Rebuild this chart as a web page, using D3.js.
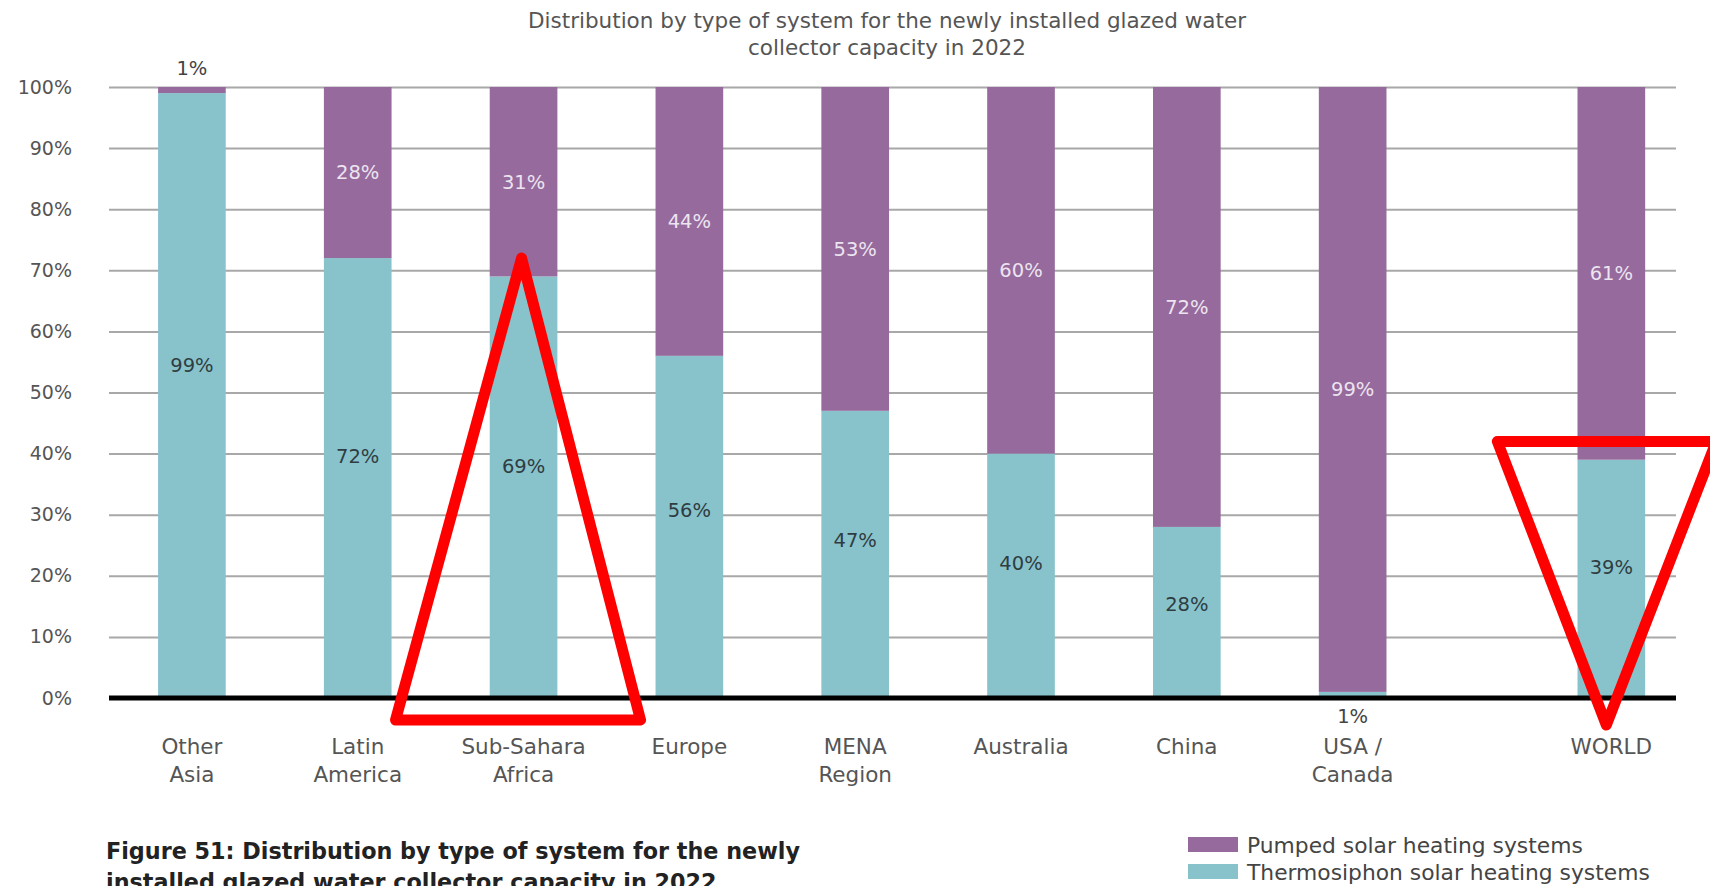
<!DOCTYPE html>
<html>
<head>
<meta charset="utf-8">
<script src="https://cdn.jsdelivr.net/npm/d3@7"></script>
<style>
  html, body { margin: 0; padding: 0; background: #fff; }
  svg { display: block; }
</style>
</head>
<body>
<svg id="chart" width="1710" height="886"></svg>
<script>
// ---------------- DATA ----------------
const categories = ["Other Asia", "Latin America", "Sub-Sahara Africa", "Europe", "MENA Region", "Australia", "China", "USA / Canada", "WORLD"];
const categoryLines = [["Other", "Asia"], ["Latin", "America"], ["Sub-Sahara", "Africa"], ["Europe"], ["MENA", "Region"], ["Australia"], ["China"], ["USA /", "Canada"], ["WORLD"]];
const thermosiphon = [99, 72, 69, 56, 47, 40, 28, 1, 39];
const pumped = [1, 28, 31, 44, 53, 60, 72, 99, 61];
const yTicks = [0, 10, 20, 30, 40, 50, 60, 70, 80, 90, 100];
const seriesNames = ["Pumped solar heating systems", "Thermosiphon solar heating systems"];
const titleLines = ["Distribution by type of system for the newly installed glazed water", "collector capacity in 2022"];
const captionLines = ["Figure 51: Distribution by type of system for the newly", "installed glazed water collector capacity in 2022"];

// ---------------- LAYOUT ----------------
const mLeft = 109, mRight = 1676, mTop = 87, mBottom = 698;
const FONT = "'DejaVu Sans', 'Liberation Sans', Arial, sans-serif";
const colThermo = "#88c3cc", colPumped = "#966a9c";

const svg = d3.select("#chart");

const table = categories.map((c, i) => ({ cat: c, lines: categoryLines[i], thermo: thermosiphon[i], pumped: pumped[i] }));
const stacked = d3.stack().keys(["thermo", "pumped"])(table);

const step = (mRight - mLeft) / 9.45;
const band = d3.scaleBand().domain(categories).range([mLeft, mLeft + 9 * step]).paddingInner(0.592).paddingOuter(0.296);
const worldShift = 0.56 * step;
const xb = c => band(c) + (c === "WORLD" ? worldShift : 0);
const xc = c => xb(c) + band.bandwidth() / 2;

const y = d3.scaleLinear().domain([0, 100]).range([mBottom, mTop]);

// gridlines + y labels
const yAxis = d3.axisLeft(y).tickValues(yTicks).tickSize(-(mRight - mLeft)).tickFormat(d => d + "%").tickPadding(37);
const gAxis = svg.append("g").attr("transform", `translate(${mLeft},0)`).call(yAxis);
gAxis.select(".domain").remove();
gAxis.selectAll(".tick line").attr("stroke", "#a8a8a8").attr("stroke-width", 2);
gAxis.selectAll(".tick text").attr("font-family", FONT).attr("font-size", 19).attr("fill", "#555");
gAxis.selectAll(".tick").filter(d => d === 0).select("line").remove();

// bars
const colors = { thermo: colThermo, pumped: colPumped };
svg.append("g").selectAll("g").data(stacked).join("g")
  .attr("fill", s => colors[s.key])
  .selectAll("rect").data(s => s).join("rect")
  .attr("x", d => xb(d.data.cat))
  .attr("width", band.bandwidth())
  .attr("y", d => y(d[1]))
  .attr("height", d => y(d[0]) - y(d[1]));

// zero line
svg.append("line").attr("x1", mLeft).attr("x2", mRight).attr("y1", y(0)).attr("y2", y(0))
  .attr("stroke", "#000").attr("stroke-width", 5);

// value labels
const labG = svg.append("g").attr("font-family", FONT).attr("font-size", 19.5).attr("text-anchor", "middle");
table.forEach(d => {
  if (d.thermo < 5) {
    labG.append("text").attr("x", xc(d.cat)).attr("y", y(0) + 18).attr("dy", "0.35em").attr("fill", "#444").text(d.thermo + "%");
  } else {
    labG.append("text").attr("x", xc(d.cat)).attr("y", y(d.thermo * 0.55)).attr("dy", "0.35em").attr("fill", "#2f3d42").text(d.thermo + "%");
  }
  if (d.pumped < 5) {
    labG.append("text").attr("x", xc(d.cat)).attr("y", y(100) - 19).attr("dy", "0.35em").attr("fill", "#444").text(d.pumped + "%");
  } else {
    labG.append("text").attr("x", xc(d.cat)).attr("y", y(d.thermo + d.pumped / 2)).attr("dy", "0.35em").attr("fill", "#ece4f0").text(d.pumped + "%");
  }
});

// category labels
const catG = svg.append("g").attr("font-family", FONT).attr("font-size", 21.5).attr("fill", "#555").attr("text-anchor", "middle");
table.forEach(d => {
  const t = catG.append("text").attr("x", xc(d.cat)).attr("y", 746);
  d.lines.forEach((ln, j) => t.append("tspan").attr("x", xc(d.cat)).attr("dy", j === 0 ? "0.35em" : 28).text(ln));
});

// title
const tt = svg.append("text").attr("font-family", FONT).attr("font-size", 21.5).attr("fill", "#555").attr("text-anchor", "middle");
titleLines.forEach((ln, j) => tt.append("tspan").attr("x", 887).attr("y", 20 + j * 27).attr("dy", "0.35em").text(ln));

// caption
const cap = svg.append("text").attr("font-family", FONT).attr("font-size", 22.3).attr("font-weight", "bold").attr("fill", "#222");
captionLines.forEach((ln, j) => cap.append("tspan").attr("x", 106).attr("y", 859 + j * 31).text(ln));

// legend
const legColors = [colPumped, colThermo];
const lg = svg.append("g");
seriesNames.forEach((n, i) => {
  const cy = 845 + i * 27;
  lg.append("rect").attr("x", 1188).attr("y", cy - 8).attr("width", 50).attr("height", 15).attr("fill", legColors[i]);
  lg.append("text").attr("x", 1247).attr("y", cy).attr("dy", "0.35em").attr("font-family", FONT).attr("font-size", 21.8).attr("fill", "#444").text(n);
});

// red annotation triangles
const tri = d3.line().curve(d3.curveLinearClosed);
const ssa = xc("Sub-Sahara Africa");
svg.append("path")
  .attr("d", tri([[ssa - 2, y(72)], [ssa + 117, y(0) + 22], [ssa - 128, y(0) + 22]]))
  .attr("fill", "none").attr("stroke", "#ff0000").attr("stroke-width", 11).attr("stroke-linejoin", "round");
const wc = xc("WORLD");
svg.append("path")
  .attr("d", tri([[wc - 114, y(42)], [wc + 105, y(42)], [wc - 5, y(0) + 27]]))
  .attr("fill", "none").attr("stroke", "#ff0000").attr("stroke-width", 11).attr("stroke-linejoin", "round");
</script>
</body>
</html>
